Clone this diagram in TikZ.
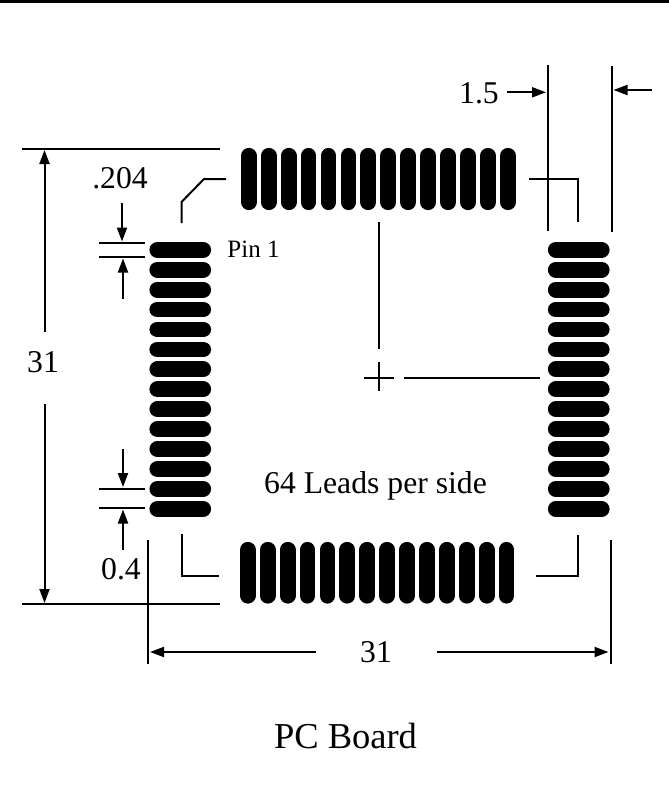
\documentclass[tikz,border=0pt]{standalone}
\usepackage{fontspec}
\setmainfont{Liberation Serif}
\usetikzlibrary{arrows.meta}
\tikzset{
  x=1pt,y=-1pt,
  dimline/.style={line width=2pt,black},
  dimarrow/.style={line width=2pt,black,-{Triangle[length=14pt,width=10pt]}},
  padline/.style={line width=15.8pt,line cap=round,black},
  big/.style={inner sep=0pt,font=\fontsize{31.7pt}{34pt}\selectfont},
  small/.style={inner sep=0pt,font=\fontsize{25pt}{28pt}\selectfont},
  title/.style={inner sep=0pt,font=\fontsize{36.5pt}{40pt}\selectfont},
}
\begin{document}
\begin{tikzpicture}
\useasboundingbox (0,0) rectangle (669,803);
\fill[black] (0,0) rectangle (669,2.6);
% pads
\foreach \i in {0,...,13}{
  \pgfmathsetmacro{\t}{248.8+\i*19.93}
  \pgfmathsetmacro{\h}{249.8+\i*19.93}
  \pgfmathsetmacro{\b}{247.8+\i*19.9}
  \draw[padline] (157.3,\h) -- (203.2,\h);
  \draw[padline] (555.8,\h) -- (601.7,\h);
  \draw[padline] (\t,155.8) -- (\t,202.2);
  \draw[padline] (\b,549.8) -- (\b,595.7);
}
% left overall dimension
\coordinate (tlA) at (22,149); \coordinate (tlB) at (220,149);
\coordinate (blA) at (22,604); \coordinate (blB) at (220,604);
\draw[dimline] (tlA) -- (tlB);
\draw[dimline] (blA) -- (blB);
\node[big] (h31) at (43,362) {31};
\coordinate (ha1) at (44.5,332); \coordinate (ha1e) at (44.5,150);
\coordinate (ha2) at (44.5,404); \coordinate (ha2e) at (44.5,603);
\draw[dimarrow] (ha1) -- (ha1e);
\draw[dimarrow] (ha2) -- (ha2e);
% .204
\node[big] (w204) at (120,178) {.204};
\coordinate (p1) at (98.5,243); \coordinate (p2) at (145,243);
\coordinate (p3) at (98.5,257); \coordinate (p4) at (145,257);
\draw[dimline] (p1) -- (p2);
\draw[dimline] (p3) -- (p4);
\coordinate (a1) at (122,203); \coordinate (a1e) at (122,241.5);
\coordinate (a2) at (123,298.5); \coordinate (a2e) at (123,258.5);
\draw[dimarrow] (a1) -- (a1e);
\draw[dimarrow] (a2) -- (a2e);
% 0.4
\node[big] (w04) at (121,569) {0.4};
\coordinate (q1) at (98.5,488.5); \coordinate (q2) at (145,488.5);
\coordinate (q3) at (98.5,508); \coordinate (q4) at (145,508);
\draw[dimline] (q1) -- (q2);
\draw[dimline] (q3) -- (q4);
\coordinate (b1) at (123,449); \coordinate (b1e) at (123,487);
\coordinate (b2) at (123,549.5); \coordinate (b2e) at (123,509.5);
\draw[dimarrow] (b1) -- (b1e);
\draw[dimarrow] (b2) -- (b2e);
% bottom overall dimension
\coordinate (v1) at (148.3,540); \coordinate (v1e) at (148.3,663.5);
\coordinate (v2) at (610.5,540); \coordinate (v2e) at (610.5,663.5);
\draw[dimline] (v1) -- (v1e);
\draw[dimline] (v2) -- (v2e);
\node[big] (w31) at (376,652) {31};
\coordinate (c1) at (316,652); \coordinate (c1e) at (150,652);
\coordinate (c2) at (437,652); \coordinate (c2e) at (608.5,652);
\draw[dimarrow] (c1) -- (c1e);
\draw[dimarrow] (c2) -- (c2e);
% 1.5
\node[big] (w15) at (479,93) {1.5};
\coordinate (u1) at (548,65); \coordinate (u1e) at (548,231);
\coordinate (u2) at (611.7,66); \coordinate (u2e) at (611.7,232);
\draw[dimline] (u1) -- (u1e);
\draw[dimline] (u2) -- (u2e);
\coordinate (d1) at (507,92.3); \coordinate (d1e) at (546,92.3);
\coordinate (d2) at (651.5,90); \coordinate (d2e) at (613.5,90);
\draw[dimarrow] (d1) -- (d1e);
\draw[dimarrow] (d2) -- (d2e);
% corner marks
\coordinate (k1) at (226,179); \coordinate (k1a) at (204,179); \coordinate (k1b) at (181.5,202); \coordinate (k1c) at (181.5,223);
\draw[dimline] (k1) -- (k1a) -- (k1b) -- (k1c);
\coordinate (k2) at (181.5,534); \coordinate (k2a) at (181.5,575.5); \coordinate (k2b) at (219,575.5);
\draw[dimline] (k2) -- (k2a) -- (k2b);
\coordinate (k3) at (529,179); \coordinate (k3a) at (577.5,179); \coordinate (k3b) at (577.5,222);
\draw[dimline] (k3) -- (k3a) -- (k3b);
\coordinate (k4) at (536,575.5); \coordinate (k4a) at (577.5,575.5); \coordinate (k4b) at (577.5,535);
\draw[dimline] (k4) -- (k4a) -- (k4b);
% centre
\coordinate (z1) at (378.5,222); \coordinate (z1e) at (378.5,349);
\coordinate (z2) at (378.5,362); \coordinate (z2e) at (378.5,391);
\coordinate (z3) at (364,378); \coordinate (z4) at (393.5,378);
\coordinate (z5) at (403.5,378); \coordinate (z6) at (540,378);
\draw[dimline] (z1) -- (z1e);
\draw[dimline] (z2) -- (z2e);
\draw[dimline] (z3) -- (z4);
\draw[dimline] (z5) -- (z6);
% labels
\node[small] (pin) at (253.5,249) {Pin 1};
\node[big] (leads) at (375.5,486) {64 Leads per side};
\node[title] (board) at (345.5,736) {PC Board};
\end{tikzpicture}
\end{document}
